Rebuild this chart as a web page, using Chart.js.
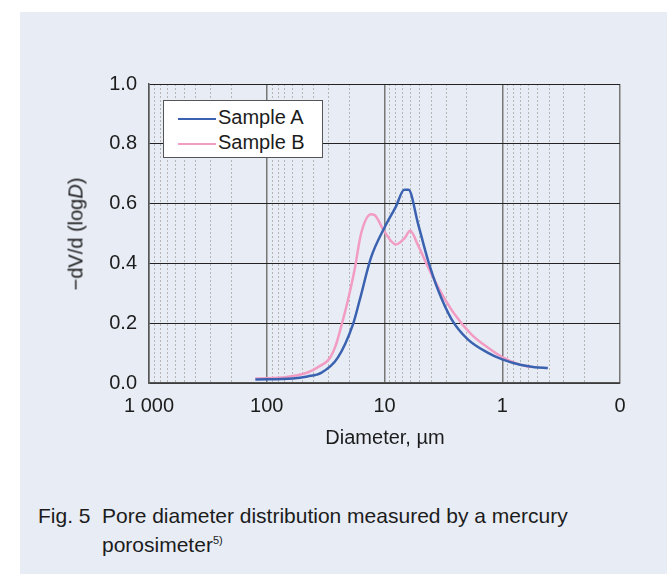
<!DOCTYPE html>
<html>
<head>
<meta charset="utf-8">
<script src="https://cdn.jsdelivr.net/npm/chart.js@4.4.1/dist/chart.umd.min.js"></script>
<style>
  html, body { margin: 0; padding: 0; background: #fff; }
  body { width: 667px; height: 574px; position: relative; overflow: hidden;
         font-family: 'Liberation Sans', Arial, sans-serif; color: #1c1c1c; }
  #panel { position: absolute; left: 20px; top: 12px; right: 0; bottom: 0; background: #e8ecf5; }
  #wrap { position: absolute; left: 0; top: 0; width: 667px; height: 460px; }
  #ylabel { position: absolute; left: 76px; top: 234px; font-size: 20px; white-space: nowrap;
            transform: translate(-50%, -50%) rotate(-90deg); }
  #xlabel { position: absolute; left: 385px; top: 437px; font-size: 20px; white-space: nowrap;
            transform: translate(-50%, -50%); }
  #legend { position: absolute; left: 163px; top: 100px; width: 160px; height: 58px;
            background: #fff; border: 1px solid #555; box-sizing: border-box; font-size: 20px; }
  .row { position: absolute; left: 14px; height: 24px; line-height: 24px; white-space: nowrap; }
  .swatch { display: inline-block; width: 38px; height: 0; border-top: 2.5px solid; vertical-align: middle; margin-right: 2px; }
  .cap { position: absolute; font-size: 21px; line-height: 24px; white-space: nowrap; }
  sup { font-size: 11px; vertical-align: 8px; }
</style>
</head>
<body>
<div id="panel"></div>
<div id="wrap"><canvas id="chart"></canvas></div>
<div id="ylabel">−dV/d (log<i>D</i>)</div>
<div id="xlabel">Diameter, µm</div>
<div id="legend"></div>
<div class="cap" style="left:38px; top:504px;">Fig. 5</div>
<div class="cap" style="left:102px; top:504px;">Pore diameter distribution measured by a mercury<br>porosimeter<sup>5)</sup></div>
<script>
// values (diameter in µm, -dV/d(logD))
var diamA = [125, 60, 45, 34.5, 25, 18.5, 16.3, 13, 10, 8, 6.8, 6.25, 5.2, 4.27, 3.5, 2.7, 1.96, 1.32, 1, 0.69, 0.53, 0.41];
var valA  = [0.012, 0.015, 0.022, 0.034, 0.084, 0.197, 0.275, 0.42, 0.52, 0.59, 0.646, 0.646, 0.534, 0.41, 0.31, 0.214, 0.146, 0.101, 0.079, 0.06, 0.053, 0.05];
var diamB = [125, 68, 45, 35, 29.3, 26, 23.3, 20.5, 18, 15.8, 13, 12.2, 10, 8, 6.8, 6.05, 5.2, 4.27, 3.5, 2.54, 1.83, 1.32, 1, 0.74, 0.57];
var valB  = [0.015, 0.02, 0.035, 0.058, 0.082, 0.125, 0.19, 0.275, 0.376, 0.5, 0.564, 0.562, 0.506, 0.463, 0.483, 0.509, 0.461, 0.388, 0.32, 0.23, 0.163, 0.118, 0.087, 0.064, 0.053];
var seriesNames = ['Sample A', 'Sample B'];
var seriesColors = ['#3b62b0', '#f29cc3'];

var majorTicks = [0.1, 1, 10, 100, 1000];
var majorLabels = ['0', '1', '10', '100', '1 000'];
var minorTicks = [];
[0.1, 1, 10, 100].forEach(function(d) {
    for (var k = 2; k <= 9; k++) minorTicks.push(+(d * k).toPrecision(3));
});
var yTicks = [0, 0.2, 0.4, 0.6, 0.8, 1.0];

function toPoints(xs, ys) {
    return xs.map(function(x, i) { return {x: x, y: ys[i]}; });
}

var FONT = "'Liberation Sans', Arial, sans-serif";

new Chart(document.getElementById('chart'), {
    type: 'line',
    data: {
        datasets: [
            { label: seriesNames[0], data: toPoints(diamA, valA), borderColor: seriesColors[0], borderWidth: 2.5,
              pointRadius: 0, cubicInterpolationMode: 'monotone', fill: false },
            { label: seriesNames[1], data: toPoints(diamB, valB), borderColor: seriesColors[1], borderWidth: 2.5,
              pointRadius: 0, cubicInterpolationMode: 'monotone', fill: false }
        ]
    },
    options: {
        responsive: true,
        maintainAspectRatio: false,
        animation: false,
        layout: { padding: { top: 84, right: 47, left: 0, bottom: 0 } },
        plugins: { legend: { display: false }, tooltip: { enabled: false } },
        scales: {
            x: {
                type: 'logarithmic', position: 'bottom', reverse: true, min: 0.1, max: 1000, weight: 1,
                afterBuildTicks: function(scale) {
                    scale.ticks = majorTicks.map(function(v) { return {value: v, major: true}; });
                },
                afterFit: function(scale) { scale.height = 77; },
                ticks: {
                    autoSkip: false, maxRotation: 0, padding: 11, color: '#1c1c1c',
                    font: { family: FONT, size: 20 },
                    callback: function(v) { return majorLabels[majorTicks.indexOf(v)]; }
                },
                grid: { color: '#777', lineWidth: 1.5, drawTicks: false },
                border: { color: '#555', width: 1.5 }
            },
            xMinor: {
                type: 'logarithmic', position: 'bottom', reverse: true, min: 0.1, max: 1000, weight: 2,
                afterBuildTicks: function(scale) {
                    scale.ticks = minorTicks.map(function(v) { return {value: v}; });
                },
                afterFit: function(scale) { scale.height = 0; },
                ticks: { display: false },
                grid: { color: '#b5b5b5', lineWidth: 1, drawTicks: false },
                border: { display: false, dash: [2, 2] }
            },
            y: {
                min: 0, max: 1,
                afterBuildTicks: function(scale) {
                    scale.ticks = yTicks.map(function(v) { return {value: v}; });
                },
                afterFit: function(scale) { scale.width = 149; },
                ticks: {
                    padding: 12, color: '#1c1c1c', font: { family: FONT, size: 20 },
                    callback: function(v) { return v.toFixed(1); }
                },
                grid: { color: '#222', lineWidth: 1, drawTicks: false },
                border: { color: '#555', width: 1.5 }
            }
        }
    }
});

// legend box built from the series names and colours
var legend = document.getElementById('legend');
seriesNames.forEach(function(name, i) {
    var row = document.createElement('div');
    row.className = 'row';
    row.style.top = (4 + i * 25) + 'px';
    row.innerHTML = '<span class="swatch" style="border-color:' + seriesColors[i] + '"></span>' + name;
    legend.appendChild(row);
});
</script>
</body>
</html>
